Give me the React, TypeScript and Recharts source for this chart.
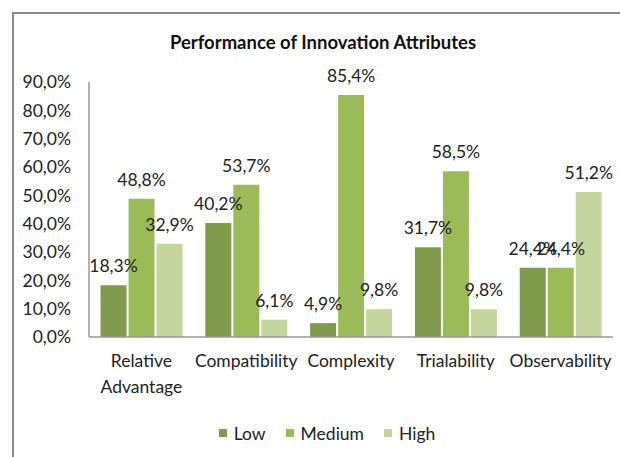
import { BarChart, Bar, XAxis, YAxis, Legend, LabelList, Text } from "recharts";

const categories = [
  "Relative Advantage",
  "Compatibility",
  "Complexity",
  "Trialability",
  "Observability",
];
const lowValues = [18.3, 40.2, 4.9, 31.7, 24.4];
const mediumValues = [48.8, 53.7, 85.4, 58.5, 24.4];
const highValues = [32.9, 6.1, 9.8, 9.8, 51.2];
const yTicks = [0, 10, 20, 30, 40, 50, 60, 70, 80, 90];

const series = [
  { key: "low", name: "Low", color: "#7f9b4b" },
  { key: "medium", name: "Medium", color: "#9bbb59" },
  { key: "high", name: "High", color: "#c4d69e" },
];

const chartData = categories.map((name, i) => ({
  name,
  low: lowValues[i],
  medium: mediumValues[i],
  high: highValues[i],
}));

const FONT = "Lato, 'Open Sans', sans-serif";
const pct = (v: number) => v.toFixed(1).replace(".", ",") + "%";

function CategoryTick(props: any) {
  const { x, y, payload } = props;
  return (
    <Text
      x={x}
      y={y + 10}
      width={100}
      textAnchor="middle"
      verticalAnchor="start"
      lineHeight={26}
      fill="#222"
      style={{ fontFamily: FONT, fontSize: 17.5 }}
    >
      {payload.value}
    </Text>
  );
}

function LegendContent() {
  return (
    <div
      style={{
        height: 30,
        display: "flex",
        justifyContent: "center",
        alignItems: "center",
        paddingLeft: 34,
        fontFamily: FONT,
        fontSize: 17.5,
        color: "#222",
      }}
    >
      {series.map((s) => (
        <div key={s.key} style={{ display: "flex", alignItems: "center", margin: "0 10px" }}>
          <span style={{ width: 8, height: 8, background: s.color, marginRight: 7 }} />
          <span>{s.name}</span>
        </div>
      ))}
    </div>
  );
}

export default function App() {
  return (
    <div
      style={{
        position: "absolute",
        left: 0,
        top: 0,
        width: 620,
        height: 457,
        overflow: "hidden",
        background: "#fff",
      }}
    >
      <div
        style={{
          position: "absolute",
          left: 12,
          top: 12,
          width: 640,
          height: 480,
          borderLeft: "2px solid #8a8a8a",
          borderTop: "2px solid #8a8a8a",
        }}
      />
      <div
        style={{
          position: "absolute",
          left: 13,
          top: 32,
          width: 620,
          lineHeight: "20px",
          textAlign: "center",
          fontFamily: FONT,
          fontWeight: 700,
          fontSize: 18.5,
          color: "#111",
        }}
      >
        Performance of Innovation Attributes
      </div>
      <div style={{ position: "absolute", left: 0, top: 0 }}>
        <BarChart
          width={620}
          height={457}
          data={chartData}
          margin={{ top: 82, right: 7, bottom: 0, left: 0 }}
          barCategoryGap="11%"
          barGap={2}
        >
          <XAxis
            dataKey="name"
            height={90}
            tickLine={false}
            axisLine={{ stroke: "#999", strokeWidth: 1.5 }}
            tick={<CategoryTick />}
            interval={0}
          />
          <YAxis
            width={89}
            domain={[0, 90]}
            ticks={yTicks}
            tickFormatter={pct}
            tickLine={false}
            tickMargin={12}
            axisLine={{ stroke: "#999", strokeWidth: 1.5 }}
            tick={{ fill: "#222", fontFamily: FONT, fontSize: 17.5 }}
          />
          <Legend
            verticalAlign="bottom"
            content={<LegendContent />}
            wrapperStyle={{ top: 418, bottom: "auto", left: 0, width: 620 }}
          />
          {series.map((s) => (
            <Bar
              key={s.key}
              dataKey={s.key}
              name={s.name}
              fill={s.color}
              isAnimationActive={false}
            >
              <LabelList
                dataKey={s.key}
                position="top"
                offset={13}
                formatter={(v: any) => pct(Number(v))}
                style={{ fill: "#222", fontFamily: FONT, fontSize: 17.5 }}
              />
            </Bar>
          ))}
        </BarChart>
      </div>
    </div>
  );
}
